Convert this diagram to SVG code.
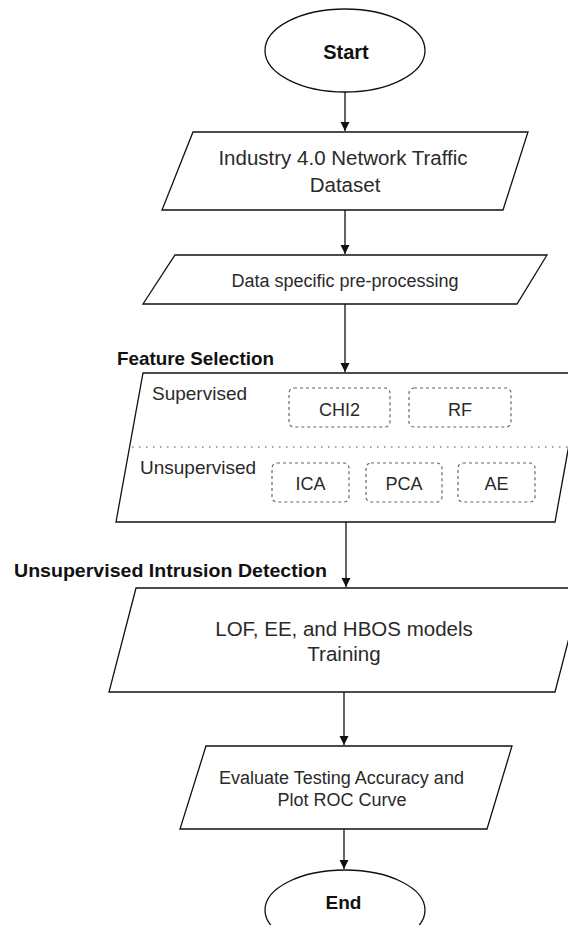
<svg xmlns="http://www.w3.org/2000/svg" width="568" height="925" viewBox="0 0 568 925">
<style>
.shape{fill:#fff;stroke:#111;stroke-width:1.3}
.edge{fill:none;stroke:#111;stroke-width:1.3}
.t{font-family:"Liberation Sans",Arial,sans-serif;fill:#2a2a2a}
.b{font-family:"Liberation Sans",Arial,sans-serif;font-weight:bold;fill:#111}
.dash{fill:none;stroke:#666;stroke-width:1.2;stroke-dasharray:3 3}
.dot{fill:none;stroke:#888;stroke-width:1.5;stroke-dasharray:1.5 5.5}
</style>
<defs>
<marker id="arr" markerWidth="10" markerHeight="10" refX="9" refY="5" orient="auto" markerUnits="userSpaceOnUse">
<path d="M0,0.5 L9,5 L0,9.5 Z" fill="#111"/>
</marker>
</defs>
<rect width="568" height="925" fill="#fff"/>
<g id="connectors">
<line class="edge" x1="345" y1="92" x2="345" y2="131" marker-end="url(#arr)"/>
<line class="edge" x1="345" y1="210" x2="345" y2="254" marker-end="url(#arr)"/>
<line class="edge" x1="345" y1="304" x2="345" y2="372" marker-end="url(#arr)"/>
<line class="edge" x1="346" y1="522" x2="346" y2="587" marker-end="url(#arr)"/>
<line class="edge" x1="344" y1="692" x2="344" y2="745" marker-end="url(#arr)"/>
<line class="edge" x1="344" y1="829" x2="344" y2="869" marker-end="url(#arr)"/>
</g>
<g id="start">
<ellipse class="shape" cx="345" cy="50.5" rx="80" ry="41.5"/>
<text class="b" x="346" y="59" font-size="20" text-anchor="middle">Start</text>
</g>
<g id="dataset">
<polygon class="shape" points="193,132 528,132 503,210 162,210"/>
<text class="t" x="343" y="165.4" font-size="20.5" text-anchor="middle">Industry 4.0 Network Traffic</text>
<text class="t" x="345" y="192.4" font-size="20.5" text-anchor="middle">Dataset</text>
</g>
<g id="preprocessing">
<polygon class="shape" points="175,255 547,255 517,304 143,304"/>
<text class="t" x="345" y="286.5" font-size="18" text-anchor="middle">Data specific pre-processing</text>
</g>
<g id="feature-selection">
<text class="b" x="117" y="364.7" font-size="18.5" textLength="157" lengthAdjust="spacingAndGlyphs">Feature Selection</text>
<polygon class="shape" points="143,373 582,373 555,522 116,522"/>
<line class="dot" x1="132" y1="447" x2="568" y2="447"/>
<text class="t" x="152" y="400" font-size="19">Supervised</text>
<text class="t" x="140" y="474" font-size="19">Unsupervised</text>
<g id="chi2"><rect class="dash" x="289" y="388" width="101" height="39" rx="5"/><text class="t" x="339.5" y="415.5" font-size="18" text-anchor="middle">CHI2</text></g>
<g id="rf"><rect class="dash" x="409" y="388" width="102" height="39" rx="5"/><text class="t" x="460" y="415.5" font-size="18" text-anchor="middle">RF</text></g>
<g id="ica"><rect class="dash" x="272" y="463" width="77" height="39" rx="5"/><text class="t" x="310.5" y="489.5" font-size="18" text-anchor="middle">ICA</text></g>
<g id="pca"><rect class="dash" x="366" y="463" width="76" height="39" rx="5"/><text class="t" x="404" y="489.5" font-size="18" text-anchor="middle">PCA</text></g>
<g id="ae"><rect class="dash" x="458" y="463" width="77" height="39" rx="5"/><text class="t" x="496.5" y="489.5" font-size="18" text-anchor="middle">AE</text></g>
</g>
<g id="detection">
<text class="b" x="14" y="576.5" font-size="18.5" textLength="313" lengthAdjust="spacingAndGlyphs">Unsupervised Intrusion Detection</text>
<polygon class="shape" points="136,588 582,588 555,692 109,692"/>
<text class="t" x="344" y="635.5" font-size="20.5" text-anchor="middle">LOF, EE, and HBOS models</text>
<text class="t" x="344" y="660.5" font-size="20.5" text-anchor="middle">Training</text>
</g>
<g id="evaluate">
<polygon class="shape" points="206,746 512,746 487,829 180,829"/>
<text class="t" x="341.5" y="783.5" font-size="18" text-anchor="middle">Evaluate Testing Accuracy and</text>
<text class="t" x="342" y="805.5" font-size="18" text-anchor="middle">Plot ROC Curve</text>
</g>
<g id="end">
<ellipse class="shape" cx="345" cy="910" rx="80" ry="40"/>
<text class="b" x="343.5" y="909" font-size="19" text-anchor="middle">End</text>
</g>
</svg>
